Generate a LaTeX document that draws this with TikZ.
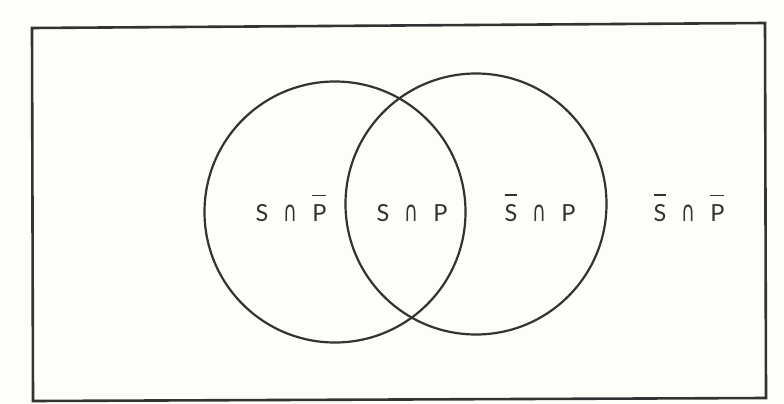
\documentclass[tikz,border=0pt]{standalone}
\usepackage{fontspec}
\usepackage{graphicx}
\setmainfont{Lato}
\newfontfamily\symfont{DejaVu Sans}
\newcommand{\barred}[1]{\leavevmode\vbox{\hrule height 1.6pt\kern 8pt\hbox{#1}}}
\newcommand{\gapsp}{\hspace{15pt}}
\newcommand{\capsym}{\scalebox{1}[1.5]{\symfont\fontsize{19}{21}\selectfont ∩}}
\definecolor{ink}{HTML}{333333}
\definecolor{paper}{HTML}{FFFDF7}
\begin{document}
\begin{tikzpicture}[x=1pt,y=-1pt,
  venn/.style={circle, draw=ink, line width=2.2pt, minimum size=261pt, inner sep=0pt},
  lbl/.style={anchor=base, text=ink, font=\fontsize{23.5}{26}\selectfont, inner sep=0pt}]
\useasboundingbox (0,0) rectangle (784,404);
\fill[paper] (0,0) rectangle (784,404);
\draw[ink, line width=2.6pt] (32,28) -- (765,23) -- (766,398) -- (33,401) -- cycle;
\node[venn] (S) at (335,212) {};
\node[venn] (P) at (476,204) {};
\node[lbl] (a) at (291,221) {S\gapsp\capsym\gapsp\barred{P}};
\node[lbl] (b) at (412,221) {S\gapsp\capsym\gapsp P};
\node[lbl] (c) at (540,221) {\barred{S}\gapsp\capsym\gapsp P};
\node[lbl] (d) at (689,221) {\barred{S}\gapsp\capsym\gapsp\barred{P}};
\end{tikzpicture}
\end{document}
